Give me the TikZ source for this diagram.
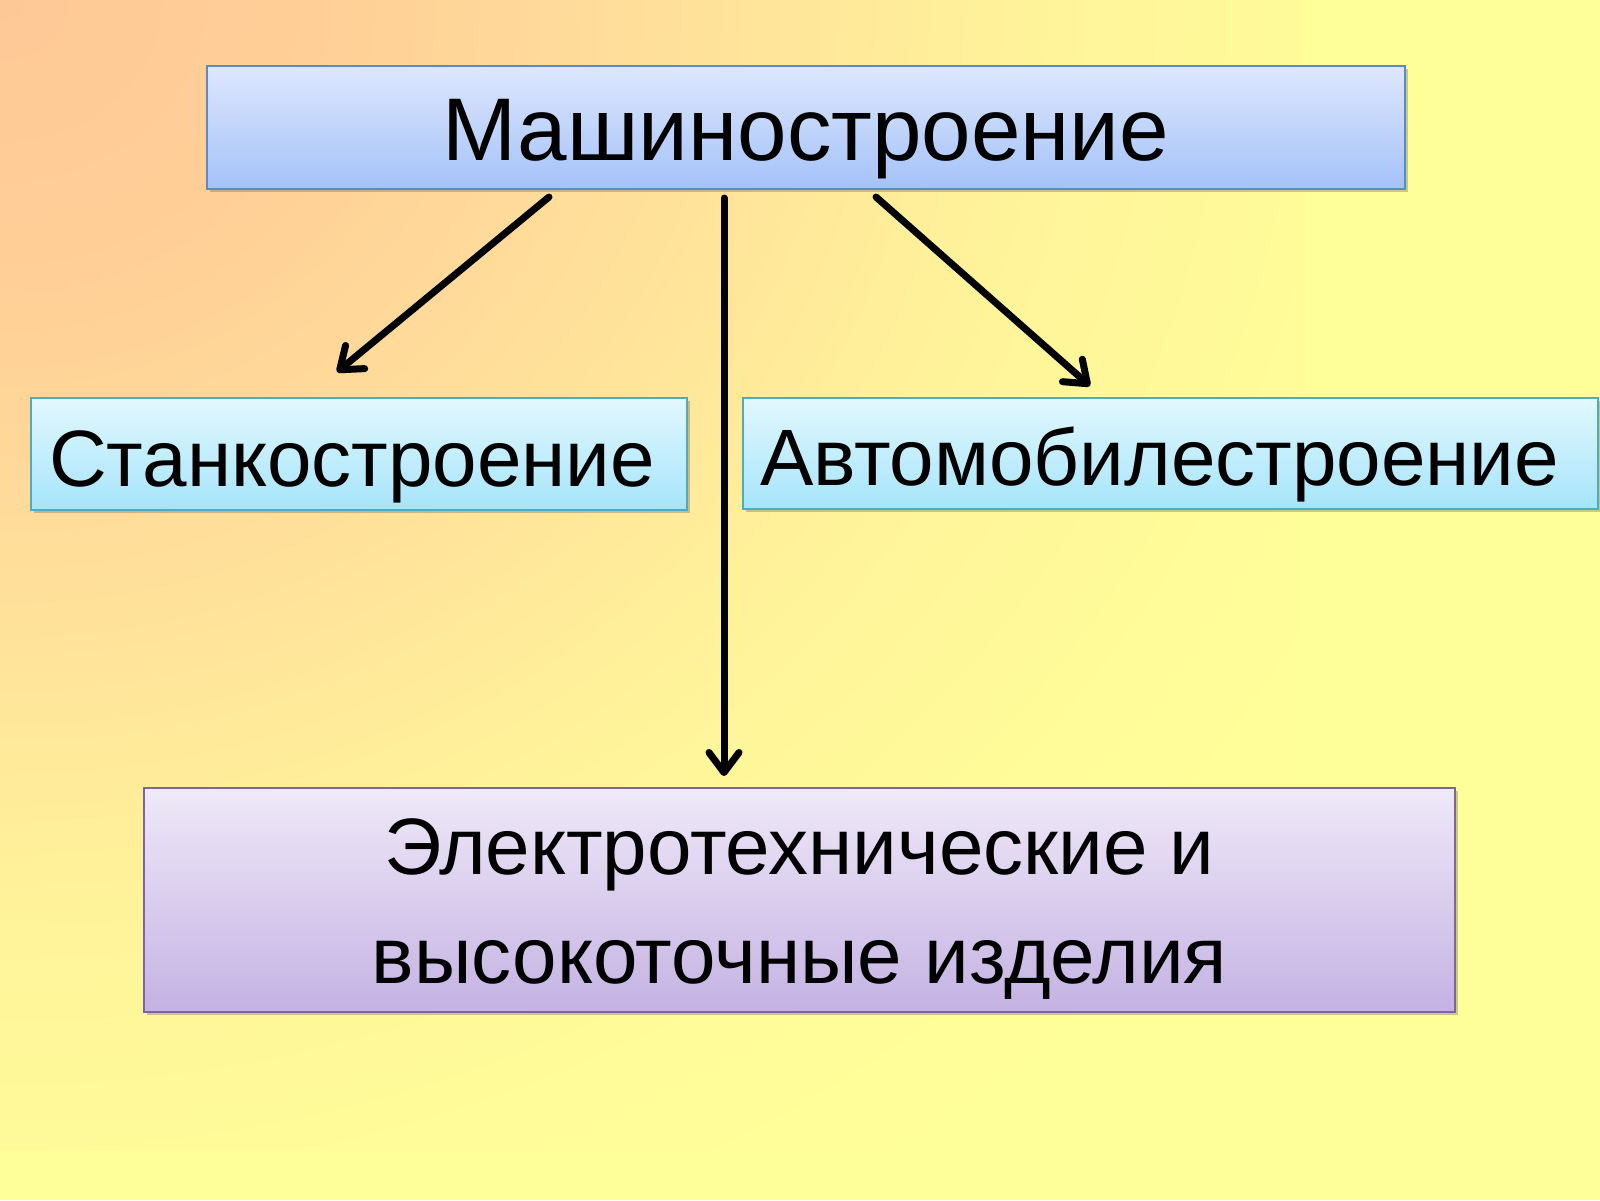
\documentclass[tikz,border=0pt]{standalone}
\usepackage{fontspec}
\setmainfont{Liberation Sans}
\usetikzlibrary{arrows.meta,shadows}
\definecolor{bg0}{HTML}{FEC896}
\definecolor{bg1}{HTML}{FFCF97}
\definecolor{bg2}{HTML}{FFDC9A}
\definecolor{bg3}{HTML}{FFE79A}
\definecolor{bg4}{HTML}{FFF39A}
\definecolor{bg5}{HTML}{FFFC99}
\definecolor{bg6}{HTML}{FFFF99}
\definecolor{blueTop}{HTML}{DEE7FD}
\definecolor{blueBot}{HTML}{A4C2F8}
\definecolor{blueLine}{HTML}{5A8ACB}
\definecolor{cyanTop}{HTML}{E2F8FF}
\definecolor{cyanBot}{HTML}{A6E4FA}
\definecolor{cyanLine}{HTML}{4BACC6}
\definecolor{violTop}{HTML}{EFE9F8}
\definecolor{violBot}{HTML}{C4B2E3}
\definecolor{violLine}{HTML}{8064A2}
\pgfdeclareradialshading{bgshade}{\pgfpoint{0bp}{0bp}}{color(0bp)=(bg0); color(6.2bp)=(bg1); color(11.4bp)=(bg2); color(15.6bp)=(bg3); color(19.8bp)=(bg4); color(26bp)=(bg5); color(31bp)=(bg6); color(50bp)=(bg6)}
\tikzset{
  box/.style={draw, line width=1.2pt, inner sep=0pt, outer sep=0pt,
    drop shadow={opacity=0.35, shadow xshift=3pt, shadow yshift=-3pt, fill=black!60}},
  bluebox/.style={box, draw=blueLine, top color=blueTop, bottom color=blueBot},
  cyanbox/.style={box, draw=cyanLine, top color=cyanTop, bottom color=cyanBot},
  violbox/.style={box, draw=violLine, top color=violTop, bottom color=violBot},
  arr/.style={line width=7pt, line cap=round, line join=round,
    -{Straight Barb[length=20pt, width=30pt, line cap=round, line join=round]}}
}
\begin{document}
\begin{tikzpicture}[x=1pt, y=-1pt]
\useasboundingbox (0,0) rectangle (1600,1200);
\begin{scope}
  \clip (0,0) rectangle (1600,1200);
  \fill[bg6] (0,0) rectangle (1600,1200);
  \shade[shading=bgshade] (-1300,-1150) rectangle (1300,1150);
\end{scope}

\node[bluebox, minimum width=1198pt, minimum height=123pt,
  font=\fontsize{89}{100}\selectfont, text height=66pt, text depth=0pt]
  (top) at (806,127.5) {Машиностроение};

\node[cyanbox, minimum width=656pt, minimum height=112pt, inner xsep=18pt,
  text width=620pt, align=left,
  font=\fontsize{80}{90}\selectfont, text height=64pt, text depth=0pt]
  (stan) at (359,454) {Станкостроение};

\node[cyanbox, minimum width=855pt, minimum height=111pt, inner xsep=17pt,
  text width=821pt, align=left,
  font=\fontsize{80}{90}\selectfont, text height=64pt, text depth=0pt]
  (auto) at (1170.5,453.5) {Автомобилестроение};

\node[violbox, minimum width=1311pt, minimum height=224pt, align=center,
  font=\fontsize{80}{109}\selectfont]
  (elec) at (799.5,900) {\rule{0pt}{74pt}Электротехнические и\\высокоточные изделия};

\coordinate (s1) at (549,197);
\coordinate (e1) at (337,372);
\coordinate (s2) at (724,198);
\coordinate (e2) at (724,776);
\coordinate (s3) at (876,197);
\coordinate (e3) at (1090,386);
\draw[arr] (s1) -- (e1);
\draw[arr] (s2) -- (e2);
\draw[arr] (s3) -- (e3);
\end{tikzpicture}
\end{document}
